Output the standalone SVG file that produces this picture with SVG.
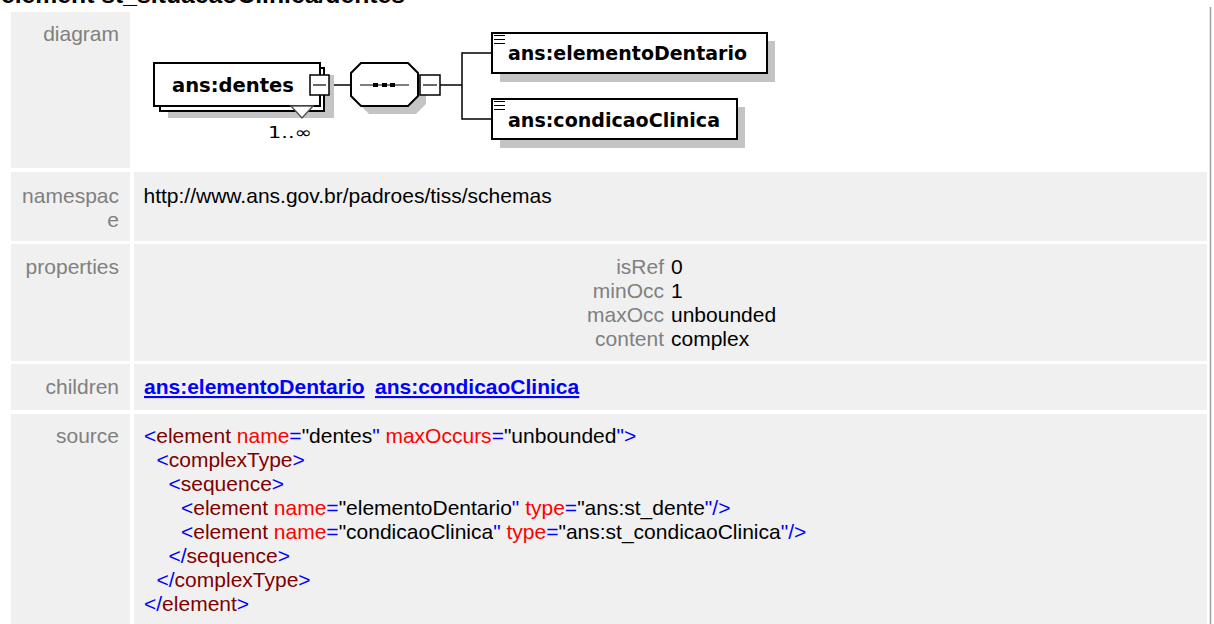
<svg xmlns="http://www.w3.org/2000/svg" width="1214" height="624" viewBox="0 0 1214 624">
<style>
.cell{fill:#f0f0f0}
.lbl{font-family:"Liberation Sans",Arial,sans-serif;font-size:21px;fill:#808080;text-anchor:end}
.txt{font-family:"Liberation Sans",Arial,sans-serif;font-size:21px;fill:#000}
.link{font-family:"Liberation Sans",Arial,sans-serif;font-size:21px;font-weight:bold;fill:#0000ff;text-decoration:underline}
.b{fill:#0000ff}.e{fill:#800000}.a{fill:#ff0000}.v{fill:#000}
.box{fill:#fff;stroke:#000;stroke-width:2}
.mbox{fill:#fff;stroke:#000;stroke-width:1.5}
.shadow{fill:#c4c4c4}
.dtxt{font-family:"DejaVu Sans",Verdana,sans-serif;font-weight:bold;font-size:19px;fill:#000}
.conn{stroke:#000;stroke-width:1.5;fill:none}
.thin{stroke:#000;stroke-width:1.2;fill:none}
</style>
<text x="1" y="3" font-family="Liberation Sans, Arial, sans-serif" font-size="24.5" font-weight="bold" textLength="404" lengthAdjust="spacingAndGlyphs">element st_situacaoClinica/dentes</text>
<line x1="1210.5" y1="7" x2="1210.5" y2="624" stroke="#a0a0a0" stroke-width="1.5"/>
<g id="table">
<rect class="cell" x="11" y="12" width="119" height="156"/>
<rect class="cell" x="11" y="172" width="119" height="69"/>
<rect class="cell" x="134" y="172" width="1073" height="69"/>
<rect class="cell" x="11" y="244" width="119" height="117"/>
<rect class="cell" x="134" y="244" width="1073" height="117"/>
<rect class="cell" x="11" y="364" width="119" height="46"/>
<rect class="cell" x="134" y="364" width="1073" height="46"/>
<rect class="cell" x="11" y="414" width="119" height="210"/>
<rect class="cell" x="134" y="414" width="1073" height="210"/>
<text class="lbl" x="119" y="41">diagram</text>
<text class="lbl" x="119" y="203">namespac</text>
<text class="lbl" x="119" y="227">e</text>
<text class="lbl" x="119" y="274">properties</text>
<text class="lbl" x="119" y="394">children</text>
<text class="lbl" x="119" y="443">source</text>
<text class="txt" x="143.5" y="203">http://www.ans.gov.br/padroes/tiss/schemas</text>
<text class="lbl" x="664" y="274">isRef</text>
<text class="lbl" x="664" y="298">minOcc</text>
<text class="lbl" x="664" y="322">maxOcc</text>
<text class="lbl" x="664" y="346">content</text>
<text class="txt" x="671" y="274">0</text>
<text class="txt" x="671" y="298">1</text>
<text class="txt" x="671" y="322">unbounded</text>
<text class="txt" x="671" y="346">complex</text>
<text class="link" x="144" y="394">ans:elementoDentario</text>
<text class="link" x="375" y="394">ans:condicaoClinica</text>
<g class="txt" xml:space="preserve">
<text x="144" y="443"><tspan class="b">&lt;</tspan><tspan class="e">element</tspan><tspan class="a"> name</tspan><tspan class="b">=</tspan><tspan class="v">"dentes</tspan><tspan class="b">"</tspan><tspan class="a"> maxOccurs</tspan><tspan class="b">=</tspan><tspan class="v">"unbounded</tspan><tspan class="b">"&gt;</tspan></text>
<text x="156.5" y="467"><tspan class="b">&lt;</tspan><tspan class="e">complexType</tspan><tspan class="b">&gt;</tspan></text>
<text x="168.5" y="491"><tspan class="b">&lt;</tspan><tspan class="e">sequence</tspan><tspan class="b">&gt;</tspan></text>
<text x="181" y="515"><tspan class="b">&lt;</tspan><tspan class="e">element</tspan><tspan class="a"> name</tspan><tspan class="b">=</tspan><tspan class="v">"elementoDentario</tspan><tspan class="b">"</tspan><tspan class="a"> type</tspan><tspan class="b">=</tspan><tspan class="v">"ans:st_dente</tspan><tspan class="b">"/&gt;</tspan></text>
<text x="181" y="539"><tspan class="b">&lt;</tspan><tspan class="e">element</tspan><tspan class="a"> name</tspan><tspan class="b">=</tspan><tspan class="v">"condicaoClinica</tspan><tspan class="b">"</tspan><tspan class="a"> type</tspan><tspan class="b">=</tspan><tspan class="v">"ans:st_condicaoClinica</tspan><tspan class="b">"/&gt;</tspan></text>
<text x="168.5" y="563"><tspan class="b">&lt;/</tspan><tspan class="e">sequence</tspan><tspan class="b">&gt;</tspan></text>
<text x="156.5" y="587"><tspan class="b">&lt;/</tspan><tspan class="e">complexType</tspan><tspan class="b">&gt;</tspan></text>
<text x="144" y="611"><tspan class="b">&lt;/</tspan><tspan class="e">element</tspan><tspan class="b">&gt;</tspan></text>
</g>
</g>
<g id="connectors">
<line class="conn" x1="329" y1="85" x2="351" y2="85"/>
<line class="conn" x1="440" y1="85" x2="462" y2="85"/>
<polyline class="conn" points="492,53 462,53 462,119 492,119"/>
</g>
<g id="node-dentes">
<rect class="shadow" x="168" y="75" width="166" height="43"/>
<rect class="box" x="160" y="68" width="164" height="43"/>
<rect class="box" x="154" y="63" width="166" height="43"/>
<polygon points="291,106 313,106 302,118" fill="#fff" stroke="#555" stroke-width="1.5"/>
<text class="dtxt" x="172" y="92" textLength="122" lengthAdjust="spacingAndGlyphs">ans:dentes</text>
<rect class="mbox" x="310" y="75" width="19" height="20"/>
<line class="thin" x1="313" y1="85" x2="326" y2="85"/>
<text x="268" y="138" font-family="DejaVu Sans, Verdana, sans-serif" font-size="16" textLength="44" lengthAdjust="spacingAndGlyphs">1..∞</text>
</g>
<g id="node-sequence">
<polygon class="shadow" points="369,71 416,71 426,81 426,104 416,114 369,114 359,104 359,81"/>
<polygon class="box" points="361,63 408,63 418,73 418,96 408,106 361,106 351,96 351,73"/>
<line class="thin" x1="360" y1="85" x2="409" y2="85"/>
<rect x="373" y="83" width="5" height="4" fill="#000"/>
<rect x="382" y="83" width="5" height="4" fill="#000"/>
<rect x="390" y="83" width="5" height="4" fill="#000"/>
<rect class="mbox" x="420" y="75" width="20" height="20"/>
<line class="thin" x1="423" y1="85" x2="437" y2="85"/>
</g>
<g id="node-elementoDentario">
<rect class="shadow" x="500" y="41" width="275" height="41"/>
<rect class="box" x="492" y="33" width="275" height="40"/>
<path class="thin" d="M494,35.5H505M494,39.5H505M494,43.5H505"/>
<text class="dtxt" x="508" y="60" textLength="239" lengthAdjust="spacingAndGlyphs">ans:elementoDentario</text>
</g>
<g id="node-condicaoClinica">
<rect class="shadow" x="500" y="107" width="245" height="41"/>
<rect class="box" x="492" y="99" width="245" height="40"/>
<path class="thin" d="M494,101.5H505M494,105.5H505M494,109.5H505"/>
<text class="dtxt" x="508" y="126.5" textLength="212" lengthAdjust="spacingAndGlyphs">ans:condicaoClinica</text>
</g>
</svg>
